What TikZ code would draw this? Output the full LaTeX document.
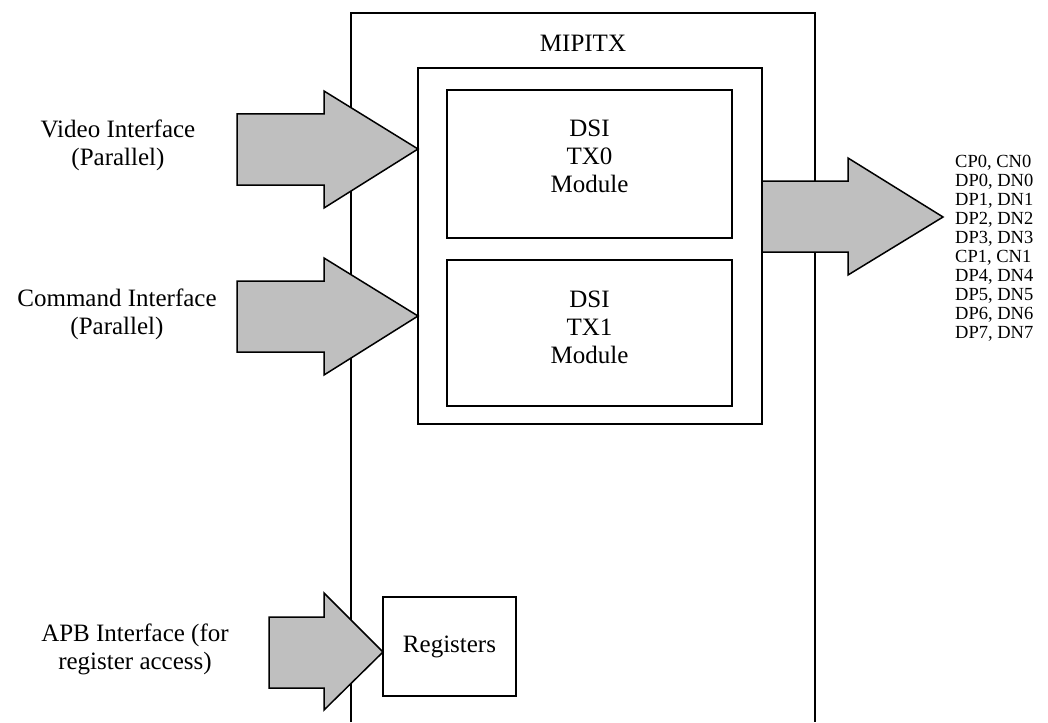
\documentclass[tikz,border=0pt]{standalone}
\usepackage{fontspec}
\setmainfont{Liberation Serif}
\begin{document}
\begin{tikzpicture}[x=1pt,y=-1pt,
  box/.style={draw=black, line width=1.5pt, fill=white, inner sep=0pt},
  bigtext/.style={font=\fontsize{25}{28}\selectfont, align=center, inner sep=0pt},
  pintext/.style={font=\fontsize{18.5}{19}\selectfont, align=left, inner sep=0pt, anchor=west},
  blockarrow/.style={draw=black, line width=1.5pt, fill=black!25, line join=miter}]
\useasboundingbox (0,0) rectangle (1048,722);
% outer MIPITX frame (open at the bottom)
\coordinate (obl) at (351,722);
\coordinate (otl) at (351,13);
\coordinate (otr) at (815,13);
\coordinate (obr) at (815,722);
\draw[line width=1.5pt] (obl) -- (otl) -- (otr) -- (obr);
\node[bigtext] (mipitx) at (583,43) {MIPITX};
% container and modules
\node[box, line width=1.7pt, minimum width=344pt, minimum height=356pt] (cont) at (590,246) {};
\node[box, minimum width=285pt, minimum height=148pt] (tx0) at (589.5,164) {};
\node[bigtext] (tx0t) at (589.5,156) {DSI\\TX0\\Module};
\node[box, minimum width=285pt, minimum height=146pt] (tx1) at (589.5,333) {};
\node[bigtext] (tx1t) at (589.5,327) {DSI\\TX1\\Module};
\node[box, minimum width=133pt, minimum height=99pt] (regs) at (449.5,646.5) {};
\node[bigtext] (regst) at (regs.center) {Registers};
% input block arrows
\draw[blockarrow] (237,114) -- (324,114) -- (324,91) -- (418,149) -- (324,208) -- (324,185) -- (237,185) -- cycle;
\draw[blockarrow] (237,281) -- (324,281) -- (324,258) -- (418,316) -- (324,375) -- (324,352) -- (237,352) -- cycle;
\draw[blockarrow] (269,617) -- (324,617) -- (324,593) -- (383,652) -- (324,710) -- (324,688) -- (269,688) -- cycle;
% output block arrow
\draw[blockarrow] (762,181) -- (848,181) -- (848,158) -- (943,217) -- (848,275) -- (848,252) -- (762,252) -- cycle;
% labels
\node[bigtext] (vid) at (118,145) {Video Interface\\(Parallel)};
\node[bigtext] (cmd) at (117,314) {Command Interface\\(Parallel)};
\node[bigtext] (apb) at (135,649) {APB Interface (for\\register access)};
\node[pintext] (pins) at (955,248) {CP0, CN0\\DP0, DN0\\DP1, DN1\\DP2, DN2\\DP3, DN3\\CP1, CN1\\DP4, DN4\\DP5, DN5\\DP6, DN6\\DP7, DN7};
\end{tikzpicture}
\end{document}
